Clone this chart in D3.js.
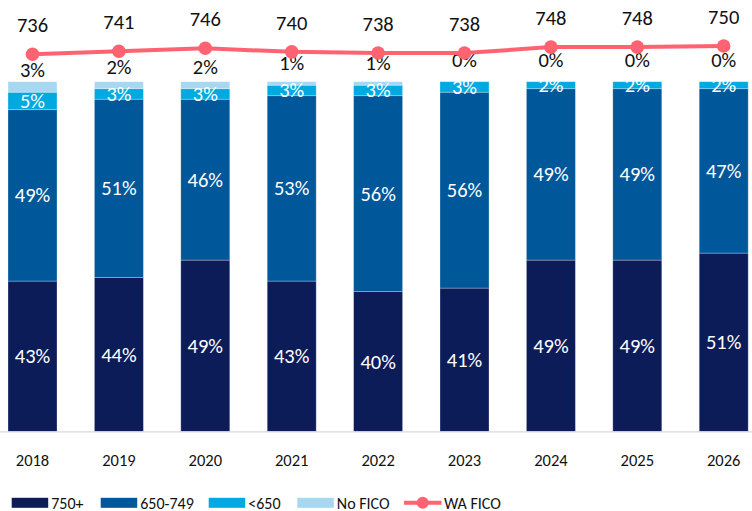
<!DOCTYPE html>
<html>
<head>
<meta charset="utf-8">
<script src="https://cdn.jsdelivr.net/npm/d3@7"></script>
<style>
  html, body { margin: 0; padding: 0; background: #fff; }
  svg { display: block; font-family: Carlito, Calibri, Lato, sans-serif; }
</style>
</head>
<body>
<svg id="chart" width="752" height="511"></svg>
<script>
// FICO score mix by vintage year (percent of pool) plus weighted-average FICO
const years = ["2018", "2019", "2020", "2021", "2022", "2023", "2024", "2025", "2026"];
const fico750plus = [43, 44, 49, 43, 40, 41, 49, 49, 51];
const fico650to749 = [49, 51, 46, 53, 56, 56, 49, 49, 47];
const ficoBelow650 = [5, 3, 3, 3, 3, 3, 2, 2, 2];
const noFico = [3, 2, 2, 1, 1, 0, 0, 0, 0];
const waFico = [736, 741, 746, 740, 738, 738, 748, 748, 750];

const seriesNames = ["750+", "650-749", "<650", "No FICO"];
const seriesColors = ["#0b1c58", "#00579a", "#00a9e0", "#a6d8f2"];
const lineName = "WA FICO";
const lineColor = "#ff6372";

const svg = d3.select("#chart");

const rows = years.map((y, i) => ({
  year: y,
  "750+": fico750plus[i],
  "650-749": fico650to749[i],
  "<650": ficoBelow650[i],
  "No FICO": noFico[i],
  wa: waFico[i]
}));

const x = d3.scaleBand()
  .domain(years)
  .range([-10.7, 766.9])
  .paddingInner(0.433)
  .paddingOuter(0.2165);

const y = d3.scaleLinear().domain([0, 100]).range([431.5, 81.7]);
const yLine = d3.scaleLinear().domain([700, 760]).range([75.6, 40]);

const stacked = d3.stack().keys(seriesNames)(rows);

// stacked bars
const layers = svg.append("g").selectAll("g")
  .data(stacked)
  .join("g")
  .attr("fill", (d, i) => seriesColors[i]);

layers.selectAll("rect")
  .data(d => d)
  .join("rect")
  .attr("x", d => x(d.data.year))
  .attr("width", x.bandwidth())
  .attr("y", d => y(d[1]))
  .attr("height", d => Math.max(0, y(d[0]) - y(d[1])))
  .attr("stroke", "rgba(255,255,255,0.35)")
  .attr("stroke-width", 0.8);

// axis baseline
svg.append("line")
  .attr("x1", 0).attr("x2", 752)
  .attr("y1", 431.8).attr("y2", 431.8)
  .attr("stroke", "#d9d9d9").attr("stroke-width", 1.2);

// white labels inside the first three segments
stacked.slice(0, 3).forEach(layer => {
  svg.append("g").selectAll("text")
    .data(layer)
    .join("text")
    .attr("x", d => x(d.data.year) + x.bandwidth() / 2)
    .attr("y", d => (y(d[0]) + y(d[1])) / 2)
    .attr("text-anchor", "middle")
    .attr("dominant-baseline", "central")
    .attr("fill", "#ffffff")
    .attr("font-size", 20.5)
    .text(d => (d[1] - d[0]) + "%");
});

// No FICO labels sit above the lower edge of their segment
const nf = stacked[3];
svg.append("g").selectAll("text")
  .data(nf)
  .join("text")
  .attr("x", d => x(d.data.year) + x.bandwidth() / 2)
  .attr("y", d => y(d[0]) - 22)
  .attr("text-anchor", "middle")
  .attr("dominant-baseline", "central")
  .attr("fill", "#111")
  .attr("font-size", 20.5)
  .text(d => (d[1] - d[0]) + "%");

// x axis labels
const xAxis = d3.axisBottom(x).tickSize(0).tickPadding(0);
const gx = svg.append("g").attr("transform", "translate(0,454)").call(xAxis);
gx.select(".domain").remove();
gx.selectAll("text")
  .attr("font-size", 16.5)
  .attr("font-family", "Carlito, Calibri, Lato, sans-serif")
  .attr("fill", "#111");

// WA FICO line
const cx = d => x(d.year) + x.bandwidth() / 2;
svg.append("path")
  .datum(rows)
  .attr("fill", "none")
  .attr("stroke", lineColor)
  .attr("stroke-width", 4)
  .attr("stroke-linejoin", "round")
  .attr("d", d3.line().x(cx).y(d => yLine(d.wa)));

svg.append("g").selectAll("circle")
  .data(rows)
  .join("circle")
  .attr("cx", cx)
  .attr("cy", d => yLine(d.wa))
  .attr("r", 6.8)
  .attr("fill", lineColor);

svg.append("g").selectAll("text")
  .data(rows)
  .join("text")
  .attr("x", cx)
  .attr("y", d => yLine(d.wa) - 29)
  .attr("text-anchor", "middle")
  .attr("dominant-baseline", "central")
  .attr("fill", "#111")
  .attr("font-size", 20.5)
  .text(d => d.wa);

// legend
const legend = svg.append("g").attr("font-size", 16).attr("fill", "#111");
const swatchX = [11.7, 100.7, 208.7, 297.3];
seriesNames.forEach((name, i) => {
  legend.append("rect")
    .attr("x", swatchX[i]).attr("y", 497.8)
    .attr("width", 36.5).attr("height", 10)
    .attr("fill", seriesColors[i]);
  legend.append("text")
    .attr("x", swatchX[i] + 39.5).attr("y", 503)
    .attr("dominant-baseline", "central")
    .text(name);
});
legend.append("line")
  .attr("x1", 404).attr("x2", 441.5)
  .attr("y1", 502.8).attr("y2", 502.8)
  .attr("stroke", lineColor).attr("stroke-width", 4);
legend.append("circle")
  .attr("cx", 422.7).attr("cy", 502.8).attr("r", 6)
  .attr("fill", lineColor);
legend.append("text")
  .attr("x", 444).attr("y", 503)
  .attr("dominant-baseline", "central")
  .text(lineName);
</script>
</body>
</html>
